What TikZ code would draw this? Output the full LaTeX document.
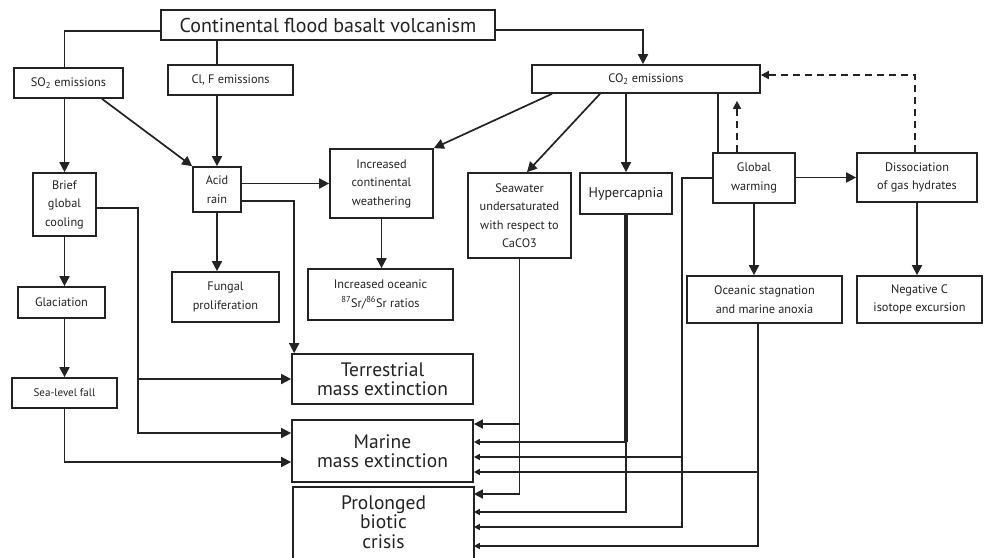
\documentclass[tikz,border=0pt]{standalone}
\usepackage{fontspec}
\setmainfont{PT Sans}
\usetikzlibrary{arrows.meta,calc}
\definecolor{ln}{RGB}{35,35,35}
\begin{document}
\begin{tikzpicture}[x=1pt,y=-1pt,
  box/.style={draw=ln, line width=1.7pt, inner sep=0pt, align=center, text=ln,
    font=\fontsize{12.3}{18.5}\selectfont},
  big/.style={box, font=\fontsize{19.5}{19}\selectfont},
  conn/.style={draw=ln, line width=1.7pt},
  arr/.style={conn, -{Triangle[length=10pt,width=10pt]}},
  bigarr/.style={conn, -{Triangle[length=9pt,width=9pt]}},
  smarr/.style={conn, -{Triangle[length=6pt,width=6pt]}},
  darr/.style={conn, dash pattern=on 7pt off 5pt, -{Triangle[length=8pt,width=8pt]}}]
\useasboundingbox (0,0) rectangle (984,557);
\fill[white] (0,0) rectangle (984,557);

% nodes
\node[box,font=\fontsize{20}{22}\selectfont,minimum width=334pt,minimum height=30pt] (top) at (328,25) {Continental flood basalt volcanism};
\node[box,minimum width=109pt,minimum height=30pt] (so2) at (68.5,83) {SO\textsubscript{2} emissions};
\node[box,minimum width=125pt,minimum height=30pt] (clf) at (230.5,80) {Cl, F emissions};
\node[box,minimum width=228pt,minimum height=28pt] (co2) at (646,79) {CO\textsubscript{2} emissions};
\node[box,minimum width=63pt,minimum height=63pt] (brief) at (64.5,204.5) {Brief\\global\\cooling};
\node[box,minimum width=48pt,minimum height=45pt] (acid) at (217,189.5) {Acid\\rain};
\node[box,minimum width=103pt,minimum height=69pt] (weath) at (381.5,183.5) {Increased\\continental\\weathering};
\node[box,minimum width=103pt,minimum height=85pt] (sea) at (519.5,215.5) {Seawater\\undersaturated\\with respect to\\CaCO3};
\node[box,font=\fontsize{14}{16}\selectfont,minimum width=92pt,minimum height=41pt] (hyper) at (626,193.5) {Hypercapnia};
\node[box,minimum width=82pt,minimum height=50pt] (warm) at (754,178) {Global\\warming};
\node[box,minimum width=120pt,minimum height=49pt] (diss) at (917,177.5) {Dissociation\\of gas hydrates};
\node[box,minimum width=107pt,minimum height=50pt] (fungal) at (225.5,297) {Fungal\\proliferation};
\node[box,minimum width=145pt,minimum height=51pt] (osr) at (380.5,294.5) {Increased oceanic\\\textsuperscript{87}Sr/\textsuperscript{86}Sr ratios};
\node[box,minimum width=87pt,minimum height=31pt] (glac) at (61.5,302.5) {Glaciation};
\node[box,minimum width=155pt,minimum height=47pt] (stag) at (764.5,299.5) {Oceanic stagnation\\and marine anoxia};
\node[box,minimum width=125pt,minimum height=47pt] (negc) at (919.5,299.5) {Negative C\\isotope excursion};
\node[box,font=\fontsize{11}{12}\selectfont,minimum width=105pt,minimum height=30pt] (slf) at (64.5,393) {Sea-level fall};
\node[big,minimum width=181pt,minimum height=50pt] (terr) at (382.5,379) {Terrestrial\\mass extinction};
\node[big,minimum width=181pt,minimum height=62pt] (marine) at (382.5,451) {Marine\\mass extinction};
\node[big,draw=none,font=\fontsize{19.5}{19.5}\selectfont,minimum width=179pt,minimum height=68pt] (prol) at (383.5,522) {Prolonged\\biotic\\crisis};
\draw[draw=ln,line width=1.7pt] ([yshift=-20pt]prol.south west) -- (prol.north west) -- (prol.north east) -- ([yshift=-20pt]prol.south east);

% coordinates
\coordinate (clfx) at ([xshift=-13.5pt]clf.north);
\coordinate (bc) at ([xshift=41pt,yshift=-3.5pt]brief.east);
\coordinate (mw1) at ([yshift=18pt]marine.west);
\coordinate (mw2) at ([yshift=-11pt]marine.west);
\coordinate (tn) at ([xshift=3pt]terr.north west);
\coordinate (w1) at ([xshift=-36pt]warm.north);
\coordinate (w2) at ([xshift=-17pt]warm.north);
\coordinate (wc) at ([xshift=-30pt]warm.west);
\coordinate (sc) at ([xshift=-6.5pt]stag.south);
\coordinate (m1) at ([yshift=27pt]marine.east);
\coordinate (m2) at ([yshift=9pt]marine.east);
\coordinate (m3) at ([yshift=-6pt]marine.east);
\coordinate (m4) at ([yshift=-21pt]marine.east);
\coordinate (p1) at ([yshift=28pt]prol.east);
\coordinate (p2) at ([yshift=10pt]prol.east);
\coordinate (p3) at ([yshift=-5pt]prol.east);
\coordinate (p4) at ([yshift=-24pt]prol.east);

% top connectors
\draw[conn] ([yshift=-6pt]top.west) -| (so2.north -| brief.north);
\draw[arr] ([yshift=-5pt]top.east) -| ([xshift=-3pt]co2.north);
\draw[conn] (clfx |- top.south) -- (clfx);

% left part
\draw[arr] (so2.south -| brief.north) -- (brief.north);
\draw[arr] ([xshift=33.5pt]so2.south) -- (acid.north west);
\draw[arr] (clf.south -| acid.north) -- (acid.north);
\draw[arr] (acid.east |- weath.west) -- (weath.west);
\draw[arr] ([yshift=-11.5pt]acid.east) -| (tn);
\draw[arr] (acid.south) -- (acid.south |- fungal.north);
\draw[arr] (weath.south) -- (weath.south |- osr.north);
\draw[arr] (brief.south) -- (brief.south |- glac.north);
\draw[arr] (glac.south -| brief.south) -- (slf.north -| brief.south);
\draw[arr] ([yshift=-3.5pt]brief.east) -- (bc) |- (mw1);
\draw[arr] (bc |- terr.west) -- (terr.west);
\draw[arr] (slf.south -| brief.south) |- (mw2);

% CO2 part
\draw[arr] ([xshift=-94pt]co2.south) -- (weath.north east);
\draw[arr] ([xshift=-46pt]co2.south) -- ([xshift=7.5pt]sea.north);
\draw[arr] (co2.south -| hyper.north) -- (hyper.north);
\draw[conn] (w1 |- co2.south) -- (w1);
\draw[darr] (w2) -- ($(w2 |- co2.south)+(0,7)$);
\draw[darr] ([xshift=-2pt]diss.north) |- ([yshift=4pt]co2.east);
\draw[arr] (warm.east |- diss.west) -- (diss.west);
\draw[arr] (warm.south) -- (warm.south |- stag.north);
\draw[arr] (diss.south) -- (diss.south |- negc.north);

% right side to marine / prolonged
\draw[bigarr] (sea.south) |- (p1);
\draw[bigarr] (sea.south |- m1) -- (m1);
\draw[draw=ln,line width=3.2pt] (hyper.south) -- (hyper.south |- m2);
\draw[smarr] (hyper.south |- m2) -- (m2);
\draw[smarr] (hyper.south |- m2) |- (p2);
\draw[smarr] (warm.west) -- (wc) |- (p3);
\draw[smarr] (wc |- m3) -- (m3);
\draw[smarr] (sc) |- (p4);
\draw[smarr] (sc |- m4) -- (m4);
\end{tikzpicture}
\end{document}
